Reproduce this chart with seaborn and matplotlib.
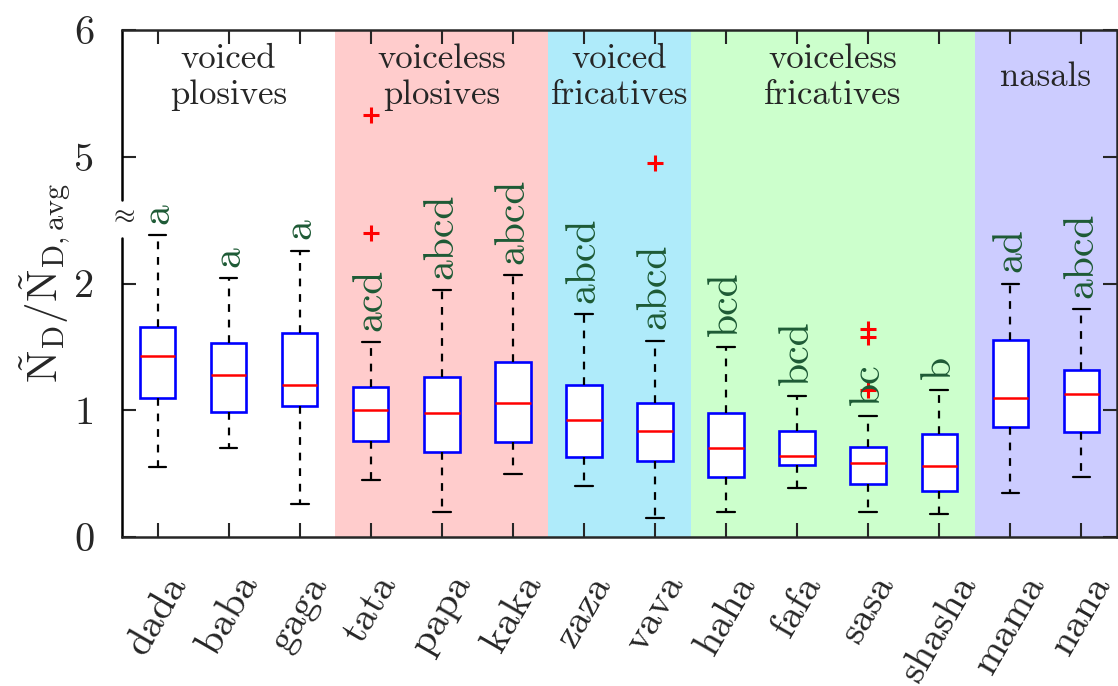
import matplotlib
matplotlib.use('Agg')
import matplotlib.pyplot as plt
import pandas as pd
import seaborn as sns
import numpy as np

# syllables (x axis) and box statistics
syllables = ['dada', 'baba', 'gaga', 'tata', 'papa', 'kaka', 'zaza', 'vava',
             'haha', 'fafa', 'sasa', 'shasha', 'mama', 'nana']
whisker_low = [0.55, 0.70, 0.26, 0.45, 0.20, 0.50, 0.40, 0.15,
               0.20, 0.39, 0.20, 0.18, 0.35, 0.475]
q1 = [1.10, 0.99, 1.03, 0.755, 0.67, 0.75, 0.63, 0.60,
      0.475, 0.57, 0.415, 0.365, 0.865, 0.83]
median = [1.43, 1.28, 1.20, 1.00, 0.98, 1.055, 0.92, 0.84,
          0.70, 0.64, 0.58, 0.56, 1.10, 1.125]
q3 = [1.66, 1.53, 1.61, 1.18, 1.265, 1.38, 1.20, 1.06,
      0.98, 0.84, 0.71, 0.81, 1.555, 1.315]
whisker_high = [2.38, 2.04, 2.26, 1.54, 1.95, 2.07, 1.76, 1.55,
                1.50, 1.11, 0.955, 1.16, 2.00, 1.80]
letters = ['a', 'a', 'a', 'acd', 'abcd', 'abcd', 'abcd', 'abcd',
           'bcd', 'bcd', 'bc', 'b', 'ad', 'abcd']

outlier_syl = ['tata', 'tata', 'vava', 'sasa', 'sasa', 'sasa']
outlier_val = [2.40, 5.33, 4.95, 1.16, 1.58, 1.645]

group_names = ['voiced\nplosives', 'voiceless\nplosives', 'voiced\nfricatives',
               'voiceless\nfricatives', 'nasals']
group_sizes = [3, 3, 2, 4, 2]
group_colors = ['white', '#FFCCCC', '#AFEBFA', '#CCFFCC', '#CCCCFF']

yticks = [0, 1, 2, 5, 6]

# long form table: 5 numbers per box -> quartiles come out exact
rows = []
for i, s in enumerate(syllables):
    for v in [whisker_low[i], q1[i], median[i], q3[i], whisker_high[i]]:
        rows.append({'syllable': s, 'value': v})
df = pd.DataFrame(rows)
df_out = pd.DataFrame({'syllable': outlier_syl, 'value': outlier_val})

sns.set_style('ticks')
plt.rcParams['font.family'] = ['cmr10', 'DejaVu Serif']
plt.rcParams['mathtext.fontset'] = 'cm'
plt.rcParams['axes.unicode_minus'] = False
plt.rcParams['axes.linewidth'] = 1.8

# broken y axis: values between 2.6 and 4.6 are cut out
BRK, GAP = 2.6, 2.0

def fwd(v):
    v = np.asarray(v, dtype=float)
    return np.where(v <= BRK, v, np.where(v >= BRK + GAP, v - GAP, BRK))

def inv(y):
    y = np.asarray(y, dtype=float)
    return np.where(y <= BRK, y, y + GAP)

fig = plt.figure(figsize=(11.18, 6.86), dpi=100)
ax = fig.add_axes([0.1091, 0.2172, 0.890, 0.739])

# coloured group bands
start = 0
for name, n, c in zip(group_names, group_sizes, group_colors):
    ax.axvspan(start - 0.5, start + n - 0.5, color=c, zorder=0, lw=0)
    ax.text((start + start + n - 1) / 2, 0.907, name, transform=ax.get_xaxis_transform(),
            ha='center', va='center', fontsize=25, multialignment='center', zorder=5)
    start += n

sns.boxplot(data=df, x='syllable', y='value', order=syllables, whis=(0, 100),
            width=0.5, color='white', linecolor='blue', linewidth=1.9,
            showfliers=False, ax=ax,
            medianprops={'color': 'red', 'linewidth': 1.8},
            whiskerprops={'color': 'black', 'linestyle': (0, (3.5, 3.5)), 'linewidth': 1.6},
            capprops={'color': 'black', 'linewidth': 1.6})

sns.stripplot(data=df_out, x='syllable', y='value', order=syllables, jitter=False,
              marker='+', color='red', size=12, linewidth=2.2, ax=ax)

for i, lab in enumerate(letters):
    ax.annotate(lab, xy=(i, whisker_high[i]), xytext=(0, 8), textcoords='offset points',
                rotation=90, ha='center', va='bottom', fontsize=30, color='#1d5a35')

ax.set_yscale('function', functions=(fwd, inv))
ax.set_ylim(0, 6)
ax.set_xlim(-0.5, len(syllables) - 0.5)
ax.set_yticks(yticks, labels=[str(t) for t in yticks])
ax.set_xticks(range(len(syllables)), labels=syllables)
plt.setp(ax.get_xticklabels(), rotation=60, ha='center', va='top', fontsize=29)
ax.tick_params(direction='in', length=10, width=1.5, top=True, right=True)
ax.tick_params(axis='y', labelsize=29, pad=20)
ax.tick_params(axis='x', pad=23)
ax.set_xlabel('')
ax.set_ylabel(r'$\tilde{\mathrm{N}}_{\mathrm{D}}/\tilde{\mathrm{N}}_{\mathrm{D,avg}}$',
              fontsize=31, labelpad=1)

# gap in the left spine with the break mark
ax.spines['left'].set_visible(False)
ax.axvline(-0.5, 0, 0.59, color='black', lw=1.8, clip_on=False)
ax.axvline(-0.5, 0.665, 1, color='black', lw=1.8, clip_on=False)
ax.text(0, 0.635, r'$\approx$', transform=ax.transAxes, ha='center', va='center',
        fontsize=20)

plt.savefig('out.png', dpi=100)
plt.close()
